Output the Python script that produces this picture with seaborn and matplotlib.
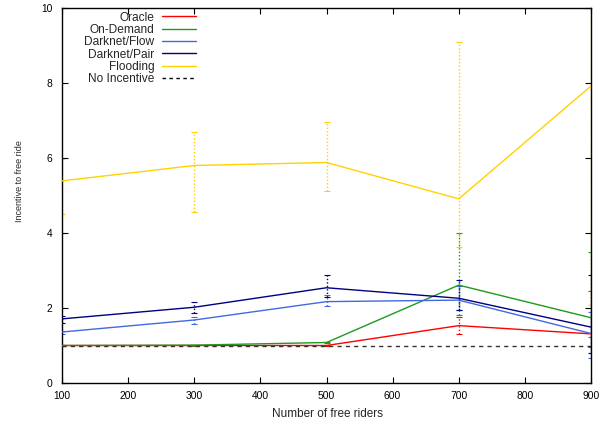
import numpy as np
import pandas as pd
import matplotlib
matplotlib.use("Agg")
import matplotlib.pyplot as plt
import seaborn as sns
from matplotlib.lines import Line2D

# ---- data ----
riders = [100, 300, 500, 700, 900]
series_names = ["Oracle", "On-Demand", "Darknet/Flow", "Darknet/Pair", "Flooding"]
oracle = [1.0, 1.0, 1.0, 1.53, 1.31]
on_demand = [1.0, 1.01, 1.08, 2.61, 1.74]
darknet_flow = [1.36, 1.68, 2.17, 2.21, 1.32]
darknet_pair = [1.71, 2.02, 2.54, 2.26, 1.49]
flooding = [5.39, 5.80, 5.88, 4.91, 7.92]
no_incentive = [1.0, 1.0, 1.0, 1.0, 1.0]

oracle_lo = [0.99, 0.99, 0.99, 1.32, 0.97]
oracle_hi = [1.01, 1.01, 1.01, 1.77, 2.45]
on_demand_lo = [0.99, 1.0, 1.06, 1.81, 1.22]
on_demand_hi = [1.01, 1.02, 1.10, 4.00, 3.50]
darknet_flow_lo = [1.31, 1.57, 2.05, 1.95, 0.66]
darknet_flow_hi = [1.39, 1.75, 2.35, 2.60, 1.90]
darknet_pair_lo = [1.61, 1.86, 2.30, 1.95, 0.81]
darknet_pair_hi = [1.79, 2.17, 2.88, 2.75, 2.88]
flooding_lo = [4.50, 4.57, 5.12, 3.63, 2.08]
flooding_hi = [5.96, 6.70, 6.96, 9.10, 13.5]

x_ticks = [100, 200, 300, 400, 500, 600, 700, 800, 900]
y_ticks = [0, 2, 4, 6, 8, 10]

colors = {"Oracle": "#ff0000", "On-Demand": "#1f9a1f", "Darknet/Flow": "#4169e1",
          "Darknet/Pair": "#000080", "Flooding": "#ffd200", "No Incentive": "#000000"}

values = {"Oracle": oracle, "On-Demand": on_demand, "Darknet/Flow": darknet_flow,
          "Darknet/Pair": darknet_pair, "Flooding": flooding}
lows = {"Oracle": oracle_lo, "On-Demand": on_demand_lo, "Darknet/Flow": darknet_flow_lo,
        "Darknet/Pair": darknet_pair_lo, "Flooding": flooding_lo}
highs = {"Oracle": oracle_hi, "On-Demand": on_demand_hi, "Darknet/Flow": darknet_flow_hi,
         "Darknet/Pair": darknet_pair_hi, "Flooding": flooding_hi}

rows = []
for name in series_names:
    for x, y in zip(riders, values[name]):
        rows.append({"riders": x, "value": y, "series": name})
df = pd.DataFrame(rows)

sns.set_style("ticks")
plt.rcParams['font.family'] = ['Liberation Sans', 'DejaVu Sans']
plt.rcParams['font.size'] = 7

fig = plt.figure(figsize=(6.11, 4.23), dpi=100)
ax = fig.add_axes([62 / 611, 1 - 383 / 423, (591 - 62) / 611, (383 - 8) / 423])

# error bars (dotted)
for name in series_names:
    y = np.array(values[name])
    lo = y - np.array(lows[name])
    hi = np.array(highs[name]) - y
    eb = ax.errorbar(riders, y, yerr=[lo, hi], fmt='none', ecolor=colors[name],
                     elinewidth=1.0, capsize=2.5, capthick=0.8, zorder=2)
    eb[-1][0].set_linestyle((0, (1, 1.5)))

sns.lineplot(data=df, x="riders", y="value", hue="series", hue_order=series_names,
             palette=colors, linewidth=1.0, ax=ax, legend=False, zorder=3)
ni = pd.DataFrame({"riders": riders, "value": no_incentive})
sns.lineplot(data=ni, x="riders", y="value", color="#333333", linewidth=1.0,
             linestyle=(0, (3, 3)), ax=ax, zorder=3)

ax.set_xlim(100, 900)
ax.set_ylim(0, 10)
ax.set_xticks(x_ticks)
ax.set_yticks(y_ticks)
ax.tick_params(axis='both', direction='in', top=True, right=True, length=4, width=0.8,
               labelsize=7.4, colors='black')
ax.tick_params(axis='y', pad=7)
ax.tick_params(axis='x', pad=6)
for s in ax.spines.values():
    s.set_visible(True)
    s.set_linewidth(1.0)
    s.set_color('black')
ax.set_xlabel("Number of free riders", fontsize=8.5)
ax.set_ylabel("Incentive to free ride", fontsize=6.5)
ax.xaxis.set_label_coords((327 - 62) / 529, (383 - 414) / 375)
ax.xaxis.label.set_va('center')
ax.yaxis.set_label_coords((20 - 62) / 529, (383 - 181) / 375)
ax.yaxis.label.set_va('center')

handles = [Line2D([], [], color=colors[n], lw=1.0) for n in series_names]
handles.append(Line2D([], [], color='black', lw=1.0, linestyle=(0, (2.5, 2.5))))
labels = series_names + ["No Incentive"]
leg = ax.legend(handles, labels, loc='upper right',
                bbox_to_anchor=(196 / 611, 1 - 11.5 / 423), bbox_transform=fig.transFigure,
                frameon=False, markerfirst=False, handlelength=2.85,
                handletextpad=0.65, labelspacing=0.03, fontsize=8.6, borderaxespad=0,
                borderpad=0)

fig.savefig("out.png", dpi=100)
